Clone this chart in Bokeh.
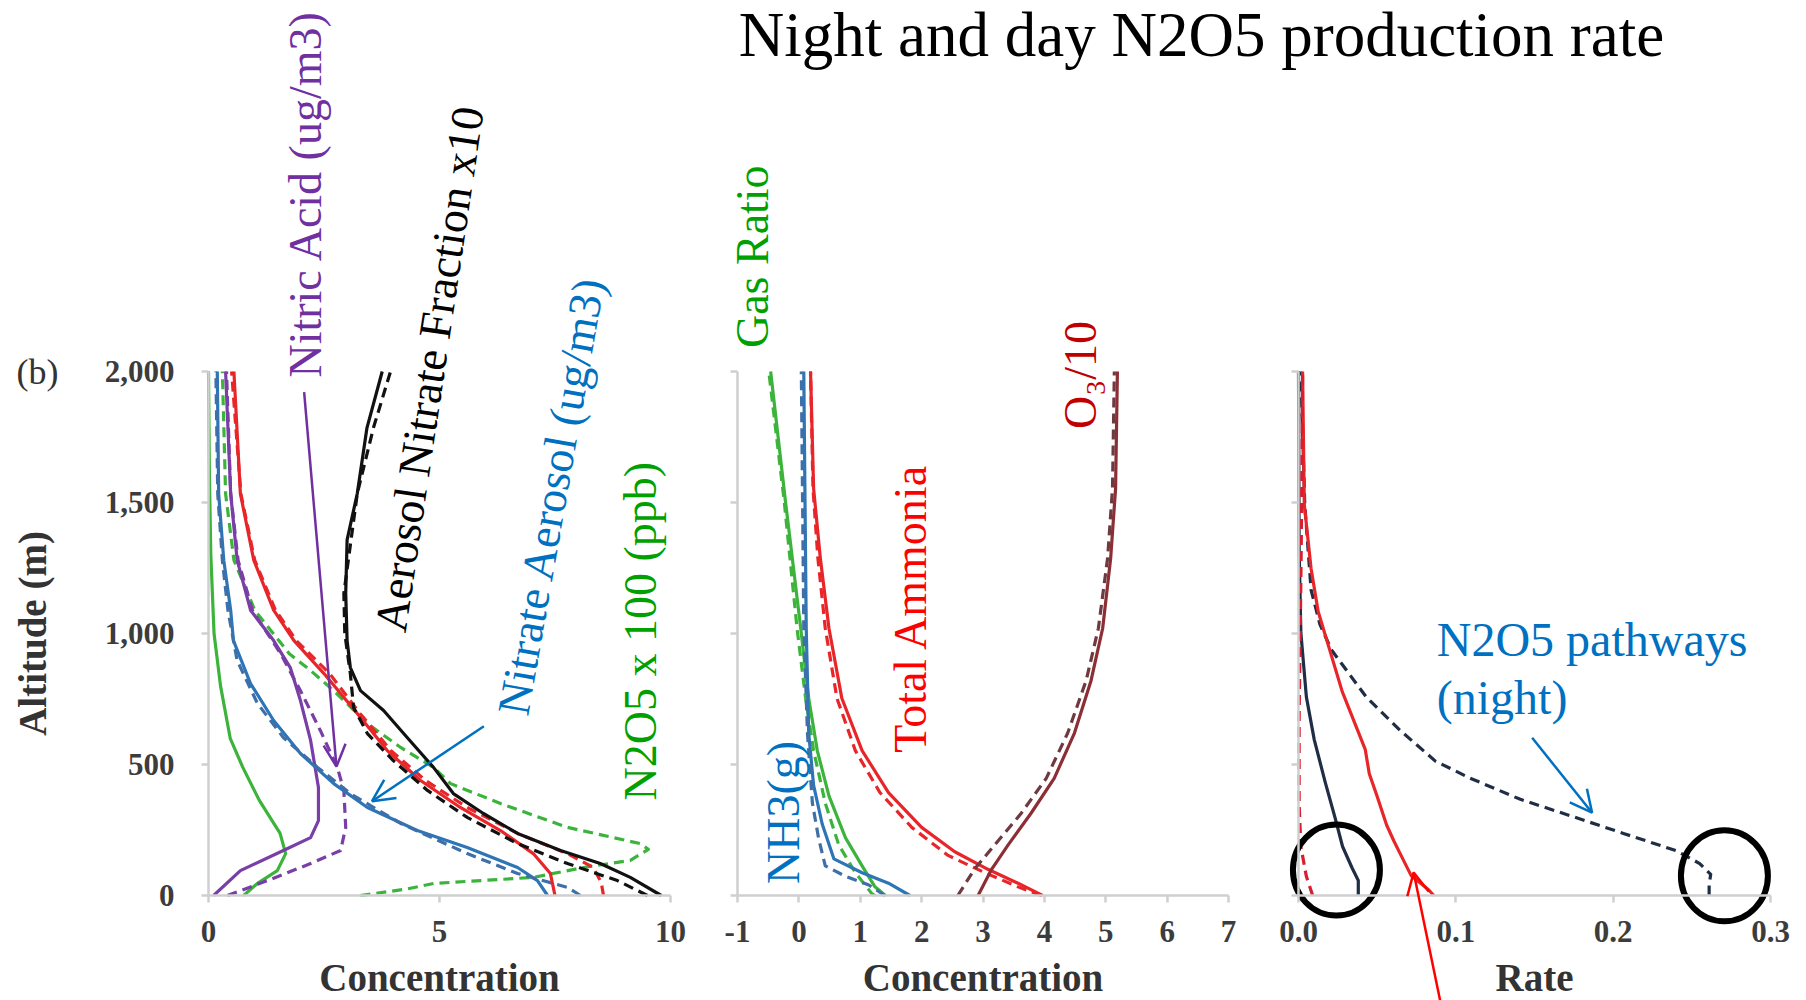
from bokeh.plotting import figure
from bokeh.models import Range1d, LinearAxis, FixedTicker, NumeralTickFormatter, PrintfTickFormatter, Arrow, OpenHead
from bokeh.core.properties import value
from bokeh.embed import file_html
from bokeh.resources import INLINE

# ---------------- data ----------------
# Panel 1 (Concentration 0-10)
p1_green_solid_alt = [0, 46, 95, 160, 237, 363, 490, 600, 800, 1000, 1300, 1600, 2000]
p1_green_solid = [0.76, 1.06, 1.49, 1.67, 1.55, 1.1, 0.74, 0.47, 0.26, 0.12, 0.05, 0.02, 0.0]
p1_green_dash_alt = [0, 25, 46, 69, 107, 134, 176, 198, 260, 351, 427, 489, 565, 656, 782, 860, 923, 1089, 1280, 1534, 2000]
p1_green_dash = [3.29, 4.3, 4.87, 7.03, 8.12, 9.13, 9.52, 9.35, 7.77, 6.32, 5.24, 4.87, 4.16, 3.44, 2.71, 2.2, 1.75, 1.0, 0.55, 0.37, 0.3]
p1_red_solid_alt = [0, 84, 160, 248, 336, 439, 553, 695, 847, 973, 1089, 1280, 1534, 2000]
p1_red_solid = [7.5, 7.4, 7.03, 6.32, 5.45, 4.59, 3.87, 3.22, 2.5, 1.85, 1.41, 0.98, 0.69, 0.55]
p1_red_dash_alt = [0, 50, 107, 160, 237, 336, 439, 553, 695, 847, 973, 1089, 1280, 1534, 2000]
p1_red_dash = [8.55, 8.5, 8.33, 7.77, 6.69, 5.6, 4.7, 3.95, 3.28, 2.62, 1.9, 1.45, 1.0, 0.7, 0.5]
p1_black_solid_alt = [0, 69, 122, 172, 237, 313, 389, 489, 603, 706, 782, 870, 973, 1153, 1357, 1534, 1785, 2000]
p1_black_solid = [9.8, 9.13, 8.48, 7.62, 6.69, 5.95, 5.3, 4.87, 4.3, 3.79, 3.29, 3.07, 3.0, 2.97, 3.0, 3.22, 3.43, 3.76]
p1_black_dash_alt = [0, 57, 122, 198, 298, 401, 515, 618, 718, 847, 1000, 1153, 1534, 1785, 2000]
p1_black_dash = [9.5, 8.85, 7.77, 6.69, 5.6, 4.74, 4.0, 3.44, 3.14, 3.07, 2.95, 2.93, 3.22, 3.57, 3.94]
p1_purple_solid_alt = [0, 95, 172, 221, 286, 412, 592, 744, 870, 973, 1089, 1280, 1534, 2000]
p1_purple_solid = [0.11, 0.69, 1.62, 2.21, 2.38, 2.38, 2.21, 1.99, 1.77, 1.41, 0.91, 0.62, 0.48, 0.37]
p1_purple_dash_alt = [0, 57, 122, 172, 260, 400, 489, 630, 782, 923, 1089, 1280, 1534, 2000]
p1_purple_dash = [0.41, 1.28, 2.21, 2.86, 2.97, 2.93, 2.79, 2.42, 1.99, 1.56, 0.95, 0.64, 0.48, 0.39]
p1_blue_solid_alt = [0, 57, 107, 183, 248, 336, 427, 542, 668, 809, 973, 1089, 1280, 1534, 2000]
p1_blue_solid = [7.34, 7.12, 6.69, 5.6, 4.52, 3.44, 2.71, 1.99, 1.41, 0.91, 0.54, 0.48, 0.33, 0.22, 0.19]
p1_blue_dash_alt = [0, 31, 84, 160, 275, 389, 489, 603, 733, 897, 1089, 1280, 1534, 2000]
p1_blue_dash = [8.05, 7.77, 6.69, 5.6, 4.16, 3.07, 2.36, 1.62, 1.06, 0.62, 0.42, 0.3, 0.2, 0.16]

# Panel 2 (Concentration -1..7)
p2_green_solid_alt = [0, 33, 113, 220, 380, 553, 753, 1020, 1507, 2000]
p2_green_solid = [1.41, 1.24, 1.03, 0.76, 0.49, 0.3, 0.16, 0.03, -0.22, -0.46]
p2_green_dash_alt = [0, 7, 87, 193, 353, 553, 753, 1020, 1507, 2000]
p2_green_dash = [1.24, 1.19, 0.92, 0.65, 0.43, 0.24, 0.11, -0.03, -0.24, -0.49]
p2_blue_solid_alt = [0, 47, 87, 140, 273, 420, 620, 1020, 2000]
p2_blue_solid = [1.81, 1.46, 1.03, 0.57, 0.38, 0.24, 0.16, 0.12, 0.08]
p2_blue_dash_alt = [0, 40, 73, 113, 220, 353, 620, 1020, 2000]
p2_blue_dash = [1.4, 1.14, 0.76, 0.43, 0.32, 0.22, 0.14, 0.08, 0.04]
p2_red_solid_alt = [0, 47, 100, 167, 260, 393, 553, 753, 1020, 1287, 1553, 2000]
p2_red_solid = [3.97, 3.57, 3.08, 2.54, 2.0, 1.46, 1.03, 0.7, 0.49, 0.35, 0.24, 0.19]
p2_red_dash_alt = [0, 33, 87, 153, 260, 393, 553, 753, 1020, 1287, 1553, 2000]
p2_red_dash = [3.95, 3.57, 3.03, 2.43, 1.84, 1.32, 0.92, 0.62, 0.43, 0.31, 0.23, 0.19]
p2_o3_solid_alt = [0, 100, 193, 313, 447, 620, 820, 1020, 1287, 1553, 2000]
p2_o3_solid = [2.92, 3.14, 3.41, 3.78, 4.16, 4.49, 4.76, 4.95, 5.08, 5.16, 5.19]
p2_o3_dash_alt = [0, 100, 193, 313, 447, 620, 820, 1020, 1287, 1553, 2000]
p2_o3_dash = [2.59, 2.86, 3.19, 3.62, 4.03, 4.38, 4.68, 4.88, 5.03, 5.11, 5.14]

# Panel 3 (Rate 0..0.3)
p3_navy_solid_alt = [0, 57, 106, 187, 302, 432, 595, 758, 1003, 1329, 2000]
p3_navy_solid = [0.038, 0.038, 0.034, 0.028, 0.023, 0.017, 0.01, 0.005, 0.0015, 0.0004, 0.0]
p3_navy_dash_alt = [0, 41, 81, 122, 171, 236, 302, 367, 448, 513, 628, 758, 937, 1035, 1166, 1491, 2000]
p3_navy_dash = [0.261, 0.261, 0.262, 0.255, 0.24, 0.207, 0.174, 0.141, 0.109, 0.087, 0.065, 0.043, 0.021, 0.0136, 0.008, 0.004, 0.0015]
p3_red_solid_alt = [0, 22, 75, 155, 207, 269, 382, 465, 558, 778, 1084, 1247, 1491, 2000]
p3_red_solid = [0.086, 0.0827, 0.0717, 0.065, 0.0607, 0.056, 0.0498, 0.045, 0.0424, 0.0278, 0.0125, 0.008, 0.0037, 0.0026]
p3_red_dash_alt = [0, 73, 187, 350, 676, 1200, 1600, 2000]
p3_red_dash = [0.009, 0.005, 0.0015, 0.0004, 0.0004, 0.0015, 0.0022, 0.0026]

# Circled regions on the rate panel
circle_x = [0.0241, 0.2707]
circle_y = [97, 75]

# ---------------- figure ----------------
W, H = 1806, 1000
SERIF = "Liberation Serif"


def hrange(v0, px0, v1, px1):
    k = (px1 - px0) / (v1 - v0)
    return Range1d(v0 - px0 / k, v0 + (W - px0) / k)


def vrange(v0, py0, v1, py1):
    k = (py0 - py1) / (v1 - v0)
    return Range1d(v0 - (H - py0) / k, v0 + py0 / k)


p = figure(width=W, height=H, title=None,
           x_range=hrange(0, 208, 10, 670), y_range=vrange(0, 895, 2000, 371),
           min_border=0, x_axis_location=None, y_axis_location=None,
           toolbar_location=None, output_backend="svg",
           outline_line_color=None, background_fill_color="white", border_fill_color="white")
p.extra_x_ranges = {"p2": hrange(-1, 737, 7, 1228), "p3": hrange(0, 1298, 0.3, 1770)}
p.xgrid.visible = False
p.ygrid.visible = False

AX_COL = "#cfcfcf"
LAB_COL = "#3c3c3c"


def style_axis(ax):
    ax.axis_line_color = AX_COL
    ax.axis_line_width = 2.5
    ax.major_tick_line_color = AX_COL
    ax.major_tick_line_width = 2.5
    ax.major_tick_out = 7
    ax.major_tick_in = 0
    ax.minor_tick_line_color = None
    ax.major_label_text_font = SERIF
    ax.major_label_text_font_style = "bold"
    ax.major_label_text_font_size = "31px"
    ax.major_label_text_color = LAB_COL
    ax.axis_label_text_font = SERIF
    ax.axis_label_text_font_style = "bold"
    ax.axis_label_text_font_size = "39px"
    ax.axis_label_text_color = "#333333"


def add_x(rname, ticks, bounds, label, fmt=None, overrides=None):
    ax = LinearAxis(x_range_name=rname, fixed_location=0, bounds=bounds,
                    ticker=FixedTicker(ticks=ticks), axis_label=label)
    if fmt is not None:
        ax.formatter = fmt
    if overrides:
        ax.major_label_overrides = overrides
    style_axis(ax)
    ax.major_label_standoff = 18
    ax.axis_label_standoff = 11
    p.add_layout(ax, "below")


def add_y(rname, loc, labels):
    ax = LinearAxis(x_range_name=rname, fixed_location=loc, bounds=(0, 2000),
                    ticker=FixedTicker(ticks=[0, 500, 1000, 1500, 2000]),
                    formatter=NumeralTickFormatter(format="0,0"))
    style_axis(ax)
    ax.major_label_standoff = 27
    if labels:
        ax.axis_label = "Altitude (m)"
        ax.axis_label_standoff = 48
    else:
        ax.major_label_overrides = {0: "", 500: "", 1000: "", 1500: "", 2000: ""}
    p.add_layout(ax, "left")


add_x("default", [0, 5, 10], (0, 10), "Concentration")
add_x("p2", [-1, 0, 1, 2, 3, 4, 5, 6, 7], (-1, 7), "Concentration", overrides={-1: "-1"})
add_x("p3", [0, 0.1, 0.2, 0.3], (0, 0.3), "Rate", PrintfTickFormatter(format="%.1f"))
add_y("default", 0, True)
add_y("p2", -1, False)
add_y("p3", 0, False)

GREEN = "#3cb43c"
PURPLE = "#7a3fa6"
BLUE = "#2e75b6"
BLUE_D = "#3f6fa8"
RED = "#e8262a"
BLACK = "#111111"
O3C = "#8c2f35"
O3D = "#6e3a40"
NAVY = "#1f2e44"
DASH = "10 6"


def ln(xs, ys, color, dashed, rname="default", w=3.2):
    p.line(x=xs, y=ys, line_color=color, line_width=w,
           line_dash=DASH if dashed else "solid", x_range_name=rname,
           line_join="round")


# panel 1
ln(p1_green_solid, p1_green_solid_alt, GREEN, False)
ln(p1_green_dash, p1_green_dash_alt, GREEN, True)
ln(p1_purple_solid, p1_purple_solid_alt, PURPLE, False)
ln(p1_purple_dash, p1_purple_dash_alt, PURPLE, True)
ln(p1_blue_solid, p1_blue_solid_alt, BLUE, False)
ln(p1_blue_dash, p1_blue_dash_alt, BLUE_D, True)
ln(p1_red_solid, p1_red_solid_alt, RED, False)
ln(p1_red_dash, p1_red_dash_alt, RED, True)
ln(p1_black_solid, p1_black_solid_alt, BLACK, False)
ln(p1_black_dash, p1_black_dash_alt, BLACK, True)

# panel 2
ln(p2_green_solid, p2_green_solid_alt, GREEN, False, "p2")
ln(p2_green_dash, p2_green_dash_alt, GREEN, True, "p2")
ln(p2_blue_solid, p2_blue_solid_alt, BLUE, False, "p2")
ln(p2_blue_dash, p2_blue_dash_alt, BLUE_D, True, "p2")
ln(p2_red_solid, p2_red_solid_alt, RED, False, "p2")
ln(p2_red_dash, p2_red_dash_alt, RED, True, "p2")
ln(p2_o3_solid, p2_o3_solid_alt, O3C, False, "p2")
ln(p2_o3_dash, p2_o3_dash_alt, O3D, True, "p2")

# panel 3
ln(p3_navy_solid, p3_navy_solid_alt, NAVY, False, "p3")
ln(p3_navy_dash, p3_navy_dash_alt, NAVY, True, "p3")
ln(p3_red_solid, p3_red_solid_alt, RED, False, "p3")
ln(p3_red_dash, p3_red_dash_alt, "#d42030", True, "p3")

p.ellipse(x=circle_x, y=circle_y, width=87, height=91, width_units="screen",
          height_units="screen", fill_color=None, line_color="black", line_width=6,
          x_range_name="p3")


def txt(x, y, s, color, rname="default", angle=90, size="46px", align="center"):
    p.text(x=[x], y=[y], text=[s], angle=angle, angle_units="deg",
           text_align=align, text_baseline="middle", text_color=color,
           text_font=value(SERIF), text_font_size=value(size), x_range_name=rname)


txt(6.56, 3284, "Night and day N2O5 production rate", "black", "p2", angle=0, size="63px")
txt(-3.70, 2000, "(b)", "#333333", angle=0, size="36px")
txt(2.10, 2679, "Nitric Acid (ug/m3)", "#7030a0")
txt(4.78, 2009, "Aerosol Nitrate Fraction x10", "black", angle=81.5)
txt(7.42, 1527, "Nitrate Aerosol (ug/m3)", "#0070c0", angle=80)
txt(9.34, 1009, "N2O5 x 100 (ppb)", "#00a000")
txt(-0.754, 2438, "Gas Ratio", "#00a000", "p2")
txt(4.595, 1987, "O\u2083/10", "#c00000", "p2")
txt(1.817, 1097, "Total Ammonia", "#ff0000", "p2")
txt(-0.247, 317, "NH3(g)", "#0070c0", "p2")
txt(0.0879, 976, "N2O5 pathways", "#0070c0", "p3", angle=0, align="left", size="48px")
txt(0.0879, 756, "(night)", "#0070c0", "p3", angle=0, align="left", size="48px")


def arrow(x0, y0, x1, y1, color, rname="default"):
    p.add_layout(Arrow(end=OpenHead(size=22, line_color=color, line_width=2.5),
                       x_start=x0, y_start=y0, x_end=x1, y_end=y1,
                       line_color=color, line_width=2.5, x_range_name=rname))


arrow(2.07, 1921, 2.77, 492, "#7030a0")
arrow(5.96, 646, 3.54, 360, "#0070c0")
arrow(0.1485, 602, 0.1866, 316, "#0070c0", "p3")
arrow(0.090, -400, 0.0732, 88, "#ff0000", "p3")

open("out.html", "w").write(file_html(p, INLINE))
